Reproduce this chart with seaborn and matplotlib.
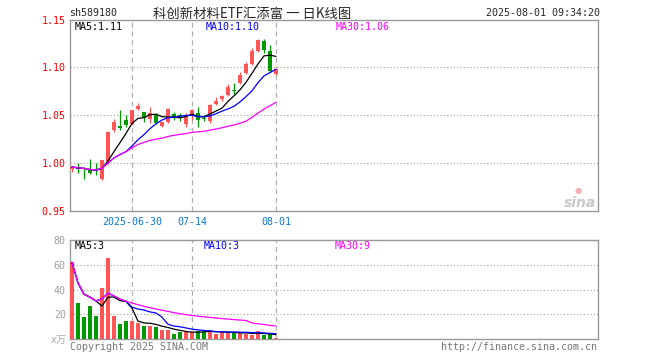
import matplotlib
matplotlib.use("Agg")
import matplotlib.pyplot as plt
import numpy as np
import pandas as pd
import seaborn as sns

# trading days 2025-06-16 .. 2025-08-01
dates = pd.bdate_range("2025-06-16", "2025-08-01")
tick_dates = ["2025-06-30", "2025-07-14", "2025-08-01"]
tick_labels = ["2025-06-30", "07-14", "08-01"]

opens = [0.994, 0.996, 0.995, 0.9927, 0.9917, 0.983, 1.000, 1.035, 1.0385, 1.0448,
         1.0406, 1.0562, 1.053, 1.046, 1.050, 1.0385, 1.0427, 1.051, 1.050, 1.0406,
         1.050, 1.052, 1.0475, 1.044, 1.0615, 1.067, 1.071, 1.0765, 1.0835, 1.094,
         1.104, 1.1167, 1.128, 1.1167, 1.0927]
closes = [0.996, 0.994, 0.9935, 0.9896, 0.9915, 1.003, 1.033, 1.043, 1.0365, 1.0396,
          1.055, 1.0594, 1.047, 1.052, 1.0417, 1.0427, 1.057, 1.048, 1.047, 1.049,
          1.055, 1.045, 1.0465, 1.061, 1.0646, 1.070, 1.080, 1.0755, 1.0925, 1.104,
          1.1167, 1.129, 1.1177, 1.096, 1.098]
highs = [0.997, 1.000, 0.996, 1.004, 1.000, 1.003, 1.034, 1.046, 1.055, 1.050,
         1.056, 1.0625, 1.053, 1.059, 1.052, 1.043, 1.058, 1.053, 1.052, 1.052,
         1.057, 1.059, 1.050, 1.062, 1.069, 1.071, 1.083, 1.084, 1.095, 1.106,
         1.120, 1.130, 1.130, 1.123, 1.099]
lows = [0.9906, 0.990, 0.983, 0.9885, 0.9875, 0.982, 0.999, 1.033, 1.035, 1.0375,
        1.040, 1.055, 1.0427, 1.042, 1.041, 1.0375, 1.042, 1.045, 1.044, 1.038,
        1.045, 1.0375, 1.044, 1.042, 1.061, 1.065, 1.070, 1.072, 1.083, 1.093,
        1.103, 1.1156, 1.115, 1.095, 1.0917]
volume = [61.9, 28.8, 17.9, 26.7, 18.4, 41.1, 65.1, 18.4, 12.0, 14.7,
          14.7, 12.8, 10.7, 10.7, 10.1, 7.5, 7.5, 4.0, 5.9, 5.3,
          5.3, 6.7, 5.9, 7.5, 4.0, 5.3, 5.3, 4.8, 5.3, 4.0,
          3.2, 6.4, 3.2, 4.0, 1.1]

RED = "#ff5555"
GREEN = "#009a00"
GRAY = "#a0a0a0"
W, H = 660, 360

df = pd.DataFrame({"date": dates, "open": opens, "close": closes,
                   "high": highs, "low": lows, "vol": volume})
df["i"] = np.arange(len(df))
df["dir"] = np.where(df["close"] >= df["open"], "up", "down")
for n in (5, 10, 30):
    df[f"ma{n}"] = df["close"].rolling(n, min_periods=1).mean()
    df[f"vma{n}"] = df["vol"].rolling(n, min_periods=1).mean()

sns.set_style("white")
plt.rcParams["font.family"] = ["DejaVu Sans Mono", "Noto Sans CJK SC"]

fig = plt.figure(figsize=(W / 100, H / 100), dpi=100)


def rect(l, t, r, b):
    return [l / W, 1 - b / H, (r - l) / W, (b - t) / H]


def px(x, y):
    return x / W, 1 - y / H


ax = fig.add_axes(rect(70, 19.5, 598, 211))
axv = fig.add_axes(rect(70, 240, 598, 339))
xlim = (-0.33, 87.67)

# candles
cols = [RED if d == "up" else GREEN for d in df["dir"]]
ax.vlines(df["i"], df["low"], df["high"], colors=cols, lw=0.9, zorder=3)
body = np.maximum((df["close"] - df["open"]).abs(), 0.0011)
ax.bar(df["i"], body, bottom=np.minimum(df["open"], df["close"]), width=0.8,
       color=cols, lw=0, zorder=4)
sns.lineplot(x=df["i"], y=df["ma5"], color="black", lw=0.9, ax=ax, zorder=5)
sns.lineplot(x=df["i"], y=df["ma10"], color="#0000ff", lw=0.9, ax=ax, zorder=5)
sns.lineplot(x=df["i"], y=df["ma30"], color="#ff00ff", lw=0.9, ax=ax, zorder=6)

ax.set_xlim(*xlim)
ax.set_ylim(0.95, 1.15)
ax.set_yticks([0.95, 1.00, 1.05, 1.10, 1.15])
ax.set_yticklabels(["0.95", "1.00", "1.05", "1.10", "1.15"])
ax.tick_params(axis="y", colors="red", length=0, pad=3, labelsize=7.2)
tick_idx = [df.index[df["date"] == pd.Timestamp(d)][0] for d in tick_dates]
ax.set_xticks(tick_idx)
ax.set_xticklabels(tick_labels)
ax.tick_params(axis="x", colors="#0a78d2", length=0, pad=4, labelsize=7.2)
ax.set_xlabel("")
ax.set_ylabel("")
for y in (1.00, 1.05, 1.10):
    ax.axhline(y, color=GRAY, ls=(0, (1, 2)), lw=0.8, zorder=1)

# volume (categorical positions 0..n-1 line up with the candle index)
sns.barplot(data=df, x="i", y="vol", color=RED, width=0.72, saturation=1,
            errorbar=None, ax=axv, zorder=3)
for p, c in zip(axv.patches, cols):
    p.set_facecolor(c)
    p.set_edgecolor("none")
    p.set_linewidth(0)
sns.lineplot(x=df["i"], y=df["vma5"], color="black", lw=0.9, ax=axv, zorder=5)
sns.lineplot(x=df["i"], y=df["vma10"], color="#0000ff", lw=0.9, ax=axv, zorder=5)
sns.lineplot(x=df["i"], y=df["vma30"], color="#ff00ff", lw=0.9, ax=axv, zorder=6)
axv.set_xlim(*xlim)
axv.set_ylim(0, 80)
axv.set_yticks([20, 40, 60, 80])
axv.tick_params(axis="y", colors=GRAY, length=0, pad=3, labelsize=7.2)
axv.set_xticks([])
axv.set_xlabel("")
axv.set_ylabel("")
for y in (20, 40, 60):
    axv.axhline(y, color=GRAY, ls=(0, (1, 2)), lw=0.8, zorder=1)

for a in (ax, axv):
    for i in tick_idx:
        a.axvline(i, color="#b0b0b0", ls=(0, (4, 3)), lw=0.9, zorder=1)
    for s in a.spines.values():
        s.set_color("#999999")
        s.set_linewidth(1)

# header texts
fig.text(*px(69, 12.5), "sh589180", fontsize=7.2, va="center", ha="left")
fig.text(*px(252, 14), "科创新材料ETF汇添富 一 日K线图", fontsize=9.6, va="center",
         ha="center", family=["Noto Sans CJK SC", "DejaVu Sans"])
fig.text(*px(600, 12.5), "2025-08-01 09:34:20", fontsize=7.2, va="center", ha="right")

fig.text(*px(75, 27), "MA5:1.11", fontsize=7.2, va="center", color="black")
fig.text(*px(206, 27), "MA10:1.10", fontsize=7.2, va="center", color="#0000ff")
fig.text(*px(336, 27), "MA30:1.06", fontsize=7.2, va="center", color="#ff00ff")
fig.text(*px(75, 246), "MA5:3", fontsize=7.2, va="center", color="black")
fig.text(*px(204, 246), "MA10:3", fontsize=7.2, va="center", color="#0000ff")
fig.text(*px(335, 246), "MA30:9", fontsize=7.2, va="center", color="#ff00ff")

fig.text(*px(66, 340), "x万", fontsize=7.2, va="center", ha="right", color="#aaaaaa",
         style="italic")
fig.text(*px(70, 347), "Copyright 2025 SINA.COM", fontsize=7.2, va="center", color="#777777")
fig.text(*px(597, 347), "http://finance.sina.com.cn", fontsize=7.2, va="center",
         ha="right", color="#777777")

# sina watermark
fig.text(*px(596, 203), "sina", fontsize=10, va="center", ha="right", color="#c8c8c8",
         style="italic", weight="bold", family="DejaVu Sans")
fig.text(*px(578, 190), "●", fontsize=6, va="center", ha="center", color="#f3b0b0",
         family="DejaVu Sans")

fig.savefig("out.png", dpi=100, facecolor="white")
